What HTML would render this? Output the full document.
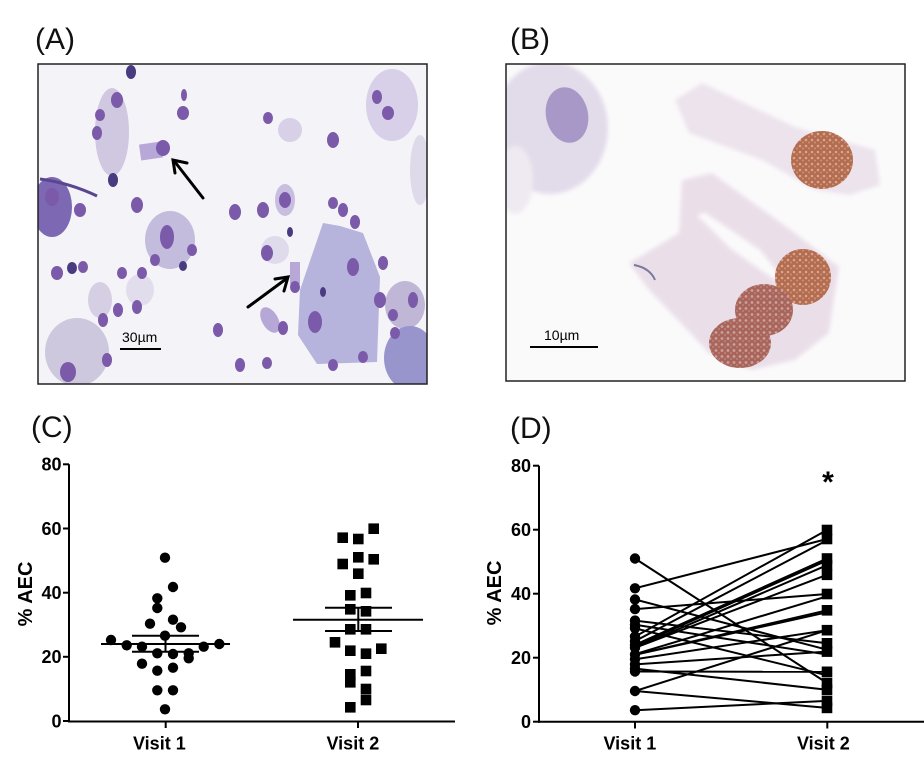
<!DOCTYPE html>
<html>
<head>
<meta charset="utf-8">
<style>
html,body{margin:0;padding:0;background:#fff;}
svg{display:block;}
text{font-family:"Liberation Sans",Arial,sans-serif;}
</style>
</head>
<body>
<svg width="924" height="777" viewBox="0 0 924 777" xmlns="http://www.w3.org/2000/svg">
<defs>
<clipPath id="ca"><rect x="38" y="64" width="389" height="320"/></clipPath>
<clipPath id="cb"><rect x="506" y="64" width="399" height="317"/></clipPath>
<pattern id="sp" width="6" height="6" patternUnits="userSpaceOnUse">
<rect width="6" height="6" fill="#b46c4e"/>
<circle cx="2" cy="2" r="1.3" fill="#d6a594"/>
<circle cx="5" cy="4.5" r="1" fill="#cc927e"/>
</pattern>
<pattern id="sp2" width="6" height="6" patternUnits="userSpaceOnUse">
<rect width="6" height="6" fill="#a9655a"/>
<circle cx="2" cy="2.5" r="1.4" fill="#c9a0a0"/>
<circle cx="5" cy="5" r="0.9" fill="#bd8c88"/>
</pattern>
<filter id="blur1"><feGaussianBlur stdDeviation="2"/></filter>
</defs>
<rect width="924" height="777" fill="#fff"/>

<text x="35" y="49" font-size="30" fill="#111">(A)</text>
<text x="510" y="49" font-size="30" fill="#111">(B)</text>
<text x="31" y="437" font-size="30" fill="#111">(C)</text>
<text x="510" y="438" font-size="30" fill="#111">(D)</text>

<g clip-path="url(#ca)">
<rect x="38" y="64" width="389" height="320" fill="#f4f3f7"/>
<ellipse cx="112" cy="132" rx="17" ry="44" fill="#cfc8e0"/>
<ellipse cx="392" cy="105" rx="26" ry="36" fill="#d7d0e8"/>
<ellipse cx="420" cy="170" rx="10" ry="35" fill="#dedaea"/>
<ellipse cx="52" cy="207" rx="20" ry="30" fill="#7d68b4"/>
<path d="M40 179 Q70 183 97 196" stroke="#5a4590" stroke-width="3" fill="none"/>
<ellipse cx="170" cy="240" rx="25" ry="29" fill="#c4bcdc"/>
<ellipse cx="77" cy="352" rx="32" ry="34" fill="#cdc8de"/>
<ellipse cx="100" cy="300" rx="12" ry="18" fill="#d6cfe4"/>
<polygon points="323,223 340,226 363,233 380,277 377,362 317,364 298,335 300,290" fill="#b6b3dc"/>
<ellipse cx="405" cy="305" rx="20" ry="24" fill="#c0b6d6"/>
<ellipse cx="410" cy="358" rx="26" ry="32" fill="#9894cc"/>
<ellipse cx="285" cy="200" rx="10" ry="16" fill="#c8bfe0"/>
<ellipse cx="275" cy="250" rx="14" ry="14" fill="#e0dbec"/>
<ellipse cx="140" cy="290" rx="14" ry="16" fill="#e2ddec"/>
<ellipse cx="290" cy="130" rx="12" ry="12" fill="#d8d0e6"/>
<rect x="140" y="143" width="22" height="16" fill="#b8a8d8" transform="rotate(-8 151 151)"/>
<rect x="290" y="262" width="10" height="22" fill="#b8a8d8"/>
<ellipse cx="270" cy="320" rx="8" ry="14" fill="#b6a8d6" transform="rotate(-30 270 320)"/>
<g fill="#7a5aa9">
<ellipse cx="117" cy="100" rx="6" ry="8"/>
<ellipse cx="100" cy="115" rx="5" ry="6"/>
<ellipse cx="97" cy="133" rx="5" ry="7"/>
<ellipse cx="183" cy="113" rx="6" ry="7"/>
<ellipse cx="184" cy="95" rx="3" ry="6"/>
<ellipse cx="163" cy="148" rx="7" ry="8"/>
<ellipse cx="268" cy="118" rx="5" ry="6"/>
<ellipse cx="333" cy="140" rx="6" ry="8"/>
<ellipse cx="377" cy="97" rx="5" ry="7"/>
<ellipse cx="388" cy="113" rx="6" ry="7"/>
<ellipse cx="137" cy="205" rx="6" ry="8"/>
<ellipse cx="80" cy="210" rx="6" ry="7"/>
<ellipse cx="235" cy="212" rx="6" ry="8"/>
<ellipse cx="263" cy="210" rx="6" ry="8"/>
<ellipse cx="285" cy="200" rx="6" ry="8"/>
<ellipse cx="333" cy="203" rx="5" ry="6"/>
<ellipse cx="343" cy="210" rx="5" ry="7"/>
<ellipse cx="355" cy="222" rx="5" ry="7"/>
<ellipse cx="167" cy="237" rx="7" ry="12"/>
<ellipse cx="155" cy="260" rx="5" ry="6"/>
<ellipse cx="192" cy="250" rx="5" ry="6"/>
<ellipse cx="267" cy="253" rx="6" ry="8"/>
<ellipse cx="57" cy="273" rx="6" ry="7"/>
<ellipse cx="83" cy="267" rx="5" ry="6"/>
<ellipse cx="122" cy="273" rx="5" ry="6"/>
<ellipse cx="142" cy="273" rx="5" ry="6"/>
<ellipse cx="118" cy="310" rx="5" ry="7"/>
<ellipse cx="137" cy="307" rx="5" ry="7"/>
<ellipse cx="295" cy="287" rx="5" ry="6"/>
<ellipse cx="353" cy="267" rx="6" ry="9"/>
<ellipse cx="315" cy="322" rx="7" ry="11"/>
<ellipse cx="383" cy="263" rx="5" ry="7"/>
<ellipse cx="380" cy="300" rx="6" ry="8"/>
<ellipse cx="393" cy="315" rx="5" ry="6"/>
<ellipse cx="413" cy="300" rx="5" ry="8"/>
<ellipse cx="395" cy="333" rx="5" ry="6"/>
<ellipse cx="218" cy="330" rx="5" ry="7"/>
<ellipse cx="283" cy="328" rx="5" ry="7"/>
<ellipse cx="240" cy="365" rx="5" ry="7"/>
<ellipse cx="267" cy="363" rx="5" ry="6"/>
<ellipse cx="333" cy="365" rx="5" ry="6"/>
<ellipse cx="363" cy="357" rx="5" ry="6"/>
<ellipse cx="107" cy="360" rx="5" ry="7"/>
<ellipse cx="68" cy="372" rx="8" ry="10"/>
<ellipse cx="103" cy="320" rx="5" ry="7"/>
<ellipse cx="52" cy="197" rx="7" ry="9"/>
</g>
<g fill="#4a3a80">
<ellipse cx="113" cy="180" rx="5" ry="7"/>
<ellipse cx="72" cy="268" rx="5" ry="6"/>
<ellipse cx="131" cy="72" rx="5" ry="7"/>
<ellipse cx="290" cy="232" rx="3" ry="5"/>
<ellipse cx="323" cy="292" rx="3" ry="5"/>
<ellipse cx="183" cy="266" rx="4" ry="5"/>
</g>
<g stroke="#000" stroke-width="3" fill="none" stroke-linecap="round">
<line x1="203" y1="198" x2="175" y2="162"/>
<polyline points="175,173 173,160 187,163"/>
<line x1="248" y1="307" x2="286" y2="279"/>
<polyline points="275,279 288,277 284,291"/>
</g>
<text x="122" y="342" font-size="14" fill="#000">30µm</text>
<line x1="120" y1="349" x2="161" y2="349" stroke="#000" stroke-width="2"/>
</g>
<rect x="38" y="64" width="389" height="320" fill="none" stroke="#222" stroke-width="1.5"/>

<g clip-path="url(#cb)">
<rect x="506" y="64" width="399" height="317" fill="#fbfafb"/>
<g filter="url(#blur1)">
<ellipse cx="550" cy="128" rx="58" ry="66" fill="#e2dbea"/>
<ellipse cx="515" cy="180" rx="18" ry="34" fill="#efeaf1"/>
<polygon points="675,100 702,83 795,127 875,150 880,185 850,195 815,190 762,160 689,133" fill="#ece3ec"/>
<polygon points="629,263 679,233 682,180 712,173 795,233 839,267 829,333 795,360 752,370 709,353 675,317 649,290" fill="#eadfe9"/>
<polygon points="697,215 705,213 760,250 780,275 775,280 730,248" fill="#fbfafb"/>
</g>
<ellipse cx="567" cy="115" rx="21" ry="28" fill="#a898c8" transform="rotate(-12 567 115)"/>
<ellipse cx="822" cy="160" rx="31" ry="29" fill="url(#sp)"/>
<ellipse cx="803" cy="277" rx="28" ry="28" fill="url(#sp)"/>
<ellipse cx="764" cy="310" rx="29" ry="26" fill="url(#sp2)"/>
<ellipse cx="740" cy="343" rx="31" ry="25" fill="url(#sp2)"/>
<path d="M634 265 Q650 268 655 280" stroke="#7a7aa0" stroke-width="2" fill="none"/>
<text x="544" y="340" font-size="14" fill="#000">10µm</text>
<line x1="530" y1="347" x2="598" y2="347" stroke="#000" stroke-width="2"/>
</g>
<rect x="506" y="64" width="399" height="317" fill="none" stroke="#222" stroke-width="1.5"/>

<g stroke="#000" stroke-width="2" fill="none">
<line x1="69" y1="464.3" x2="69" y2="722"/>
<line x1="68" y1="721.5" x2="455" y2="721.5"/>
<line x1="63" y1="464.3" x2="69" y2="464.3"/>
<line x1="63" y1="528.5" x2="69" y2="528.5"/>
<line x1="63" y1="592.7" x2="69" y2="592.7"/>
<line x1="63" y1="656.8" x2="69" y2="656.8"/>
<line x1="63" y1="721" x2="69" y2="721"/>
<line x1="165.7" y1="721" x2="165.7" y2="728"/>
<line x1="358" y1="721" x2="358" y2="728"/>
</g>
<g font-size="18" font-weight="bold" text-anchor="end" fill="#000">
<text x="61.5" y="470.7">80</text>
<text x="61.5" y="534.9">60</text>
<text x="61.5" y="599.1">40</text>
<text x="61.5" y="663.2">20</text>
<text x="61.5" y="727.4">0</text>
</g>
<text transform="translate(25,594) rotate(-90)" x="0" y="7" font-size="20" font-weight="bold" text-anchor="middle">% AEC</text>
<text x="133" y="749.5" font-size="18" font-weight="bold">Visit 1</text>
<text x="326.5" y="749.5" font-size="18" font-weight="bold">Visit 2</text>
<g fill="#000">
<circle cx="165" cy="557.7" r="5.2"/>
<circle cx="173" cy="587" r="5.2"/>
<circle cx="157.3" cy="598.3" r="5.2"/>
<circle cx="157.3" cy="608" r="5.2"/>
<circle cx="150" cy="623.7" r="5.2"/>
<circle cx="173" cy="619.7" r="5.2"/>
<circle cx="181" cy="627.3" r="5.2"/>
<circle cx="165" cy="635.7" r="5.2"/>
<circle cx="111" cy="640" r="5.2"/>
<circle cx="126.7" cy="645.3" r="5.2"/>
<circle cx="142" cy="646.7" r="5.2"/>
<circle cx="203.7" cy="646.7" r="5.2"/>
<circle cx="219.3" cy="644" r="5.2"/>
<circle cx="157.3" cy="653.3" r="5.2"/>
<circle cx="173" cy="654" r="5.2"/>
<circle cx="188.7" cy="653.3" r="5.2"/>
<circle cx="188.7" cy="658.3" r="5.2"/>
<circle cx="142" cy="663.7" r="5.2"/>
<circle cx="157.3" cy="670.7" r="5.2"/>
<circle cx="173" cy="667.7" r="5.2"/>
<circle cx="157.3" cy="690.3" r="5.2"/>
<circle cx="173" cy="690.3" r="5.2"/>
<circle cx="165" cy="709.3" r="5.2"/>
</g>
<g fill="#000">
<rect x="368.4" y="523.4" width="10.6" height="10.6"/>
<rect x="337.4" y="532.4" width="10.6" height="10.6"/>
<rect x="353" y="533.7" width="10.6" height="10.6"/>
<rect x="353" y="552" width="10.6" height="10.6"/>
<rect x="368.4" y="554" width="10.6" height="10.6"/>
<rect x="337.4" y="558.7" width="10.6" height="10.6"/>
<rect x="353" y="568.4" width="10.6" height="10.6"/>
<rect x="345" y="590" width="10.6" height="10.6"/>
<rect x="360.7" y="587.7" width="10.6" height="10.6"/>
<rect x="345" y="604" width="10.6" height="10.6"/>
<rect x="360.7" y="606" width="10.6" height="10.6"/>
<rect x="345" y="624" width="10.6" height="10.6"/>
<rect x="360.7" y="624" width="10.6" height="10.6"/>
<rect x="329.7" y="637" width="10.6" height="10.6"/>
<rect x="376" y="643.4" width="10.6" height="10.6"/>
<rect x="345" y="645.4" width="10.6" height="10.6"/>
<rect x="360.7" y="648.4" width="10.6" height="10.6"/>
<rect x="345" y="669" width="10.6" height="10.6"/>
<rect x="345" y="677" width="10.6" height="10.6"/>
<rect x="360.7" y="665.7" width="10.6" height="10.6"/>
<rect x="360.7" y="683.7" width="10.6" height="10.6"/>
<rect x="360.7" y="694.7" width="10.6" height="10.6"/>
<rect x="345" y="702" width="10.6" height="10.6"/>
</g>
<g stroke="#000" stroke-width="2">
<line x1="101" y1="644" x2="230" y2="644"/>
<line x1="132" y1="635.7" x2="199" y2="635.7"/>
<line x1="132" y1="651.7" x2="199" y2="651.7"/>
<line x1="165.5" y1="635.7" x2="165.5" y2="651.7"/>
<line x1="293" y1="619.7" x2="423" y2="619.7"/>
<line x1="325" y1="607.7" x2="392" y2="607.7"/>
<line x1="325" y1="631" x2="392" y2="631"/>
<line x1="358.3" y1="607.7" x2="358.3" y2="631"/>
</g>

<g stroke="#000" stroke-width="2" fill="none">
<line x1="539" y1="465.7" x2="539" y2="722.7"/>
<line x1="538" y1="721.7" x2="924" y2="721.7"/>
<line x1="533" y1="465.7" x2="539" y2="465.7"/>
<line x1="533" y1="529.7" x2="539" y2="529.7"/>
<line x1="533" y1="593.7" x2="539" y2="593.7"/>
<line x1="533" y1="657.7" x2="539" y2="657.7"/>
<line x1="533" y1="721.7" x2="539" y2="721.7"/>
<line x1="635" y1="721.7" x2="635" y2="728.5"/>
<line x1="827.3" y1="721.7" x2="827.3" y2="728.5"/>
</g>
<g font-size="18" font-weight="bold" text-anchor="end" fill="#000">
<text x="531" y="472.1">80</text>
<text x="531" y="536.1">60</text>
<text x="531" y="600.1">40</text>
<text x="531" y="664.1">20</text>
<text x="531" y="728.1">0</text>
</g>
<text transform="translate(494,593) rotate(-90)" x="0" y="7" font-size="20" font-weight="bold" text-anchor="middle">% AEC</text>
<text x="603.5" y="749.5" font-size="18" font-weight="bold">Visit 1</text>
<text x="797" y="749.5" font-size="18" font-weight="bold">Visit 2</text>
<text x="828" y="492" font-size="30" font-weight="bold" text-anchor="middle">*</text>
<g stroke="#000" stroke-width="2">
<line x1="635" y1="558.5" x2="827" y2="683.0"/>
<line x1="635" y1="588.3" x2="827" y2="539.0"/>
<line x1="635" y1="599.5" x2="827" y2="649.7"/>
<line x1="635" y1="609.1" x2="827" y2="594.0"/>
<line x1="635" y1="620.6" x2="827" y2="643.3"/>
<line x1="635" y1="624.7" x2="827" y2="654.5"/>
<line x1="635" y1="628.3" x2="827" y2="675.3"/>
<line x1="635" y1="636.6" x2="827" y2="530.0"/>
<line x1="635" y1="641.1" x2="827" y2="540.3"/>
<line x1="635" y1="644.9" x2="827" y2="558.5"/>
<line x1="635" y1="646.2" x2="827" y2="560.4"/>
<line x1="635" y1="647.8" x2="827" y2="565.2"/>
<line x1="635" y1="647.8" x2="827" y2="574.8"/>
<line x1="635" y1="654.2" x2="827" y2="596.3"/>
<line x1="635" y1="654.8" x2="827" y2="610.3"/>
<line x1="635" y1="654.8" x2="827" y2="612.3"/>
<line x1="635" y1="659.3" x2="827" y2="630.2"/>
<line x1="635" y1="664.4" x2="827" y2="651.6"/>
<line x1="635" y1="668.6" x2="827" y2="689.7"/>
<line x1="635" y1="671.5" x2="827" y2="671.8"/>
<line x1="635" y1="691.0" x2="827" y2="630.2"/>
<line x1="635" y1="691.0" x2="827" y2="707.9"/>
<line x1="635" y1="710.2" x2="827" y2="700.9"/>
</g>
<g fill="#000">
<circle cx="635" cy="558.5" r="5.2"/>
<circle cx="635" cy="588.3" r="5.2"/>
<circle cx="635" cy="599.5" r="5.2"/>
<circle cx="635" cy="609.1" r="5.2"/>
<circle cx="635" cy="620.6" r="5.2"/>
<circle cx="635" cy="624.7" r="5.2"/>
<circle cx="635" cy="628.3" r="5.2"/>
<circle cx="635" cy="636.6" r="5.2"/>
<circle cx="635" cy="641.1" r="5.2"/>
<circle cx="635" cy="644.9" r="5.2"/>
<circle cx="635" cy="647.8" r="5.2"/>
<circle cx="635" cy="654.5" r="5.2"/>
<circle cx="635" cy="659.3" r="5.2"/>
<circle cx="635" cy="664.4" r="5.2"/>
<circle cx="635" cy="668.6" r="5.2"/>
<circle cx="635" cy="671.5" r="5.2"/>
<circle cx="635" cy="691.0" r="5.2"/>
<circle cx="635" cy="710.2" r="5.2"/>
</g>
<g fill="#000">
<rect x="821.7" y="524.7" width="10.6" height="10.6"/>
<rect x="821.7" y="533.7" width="10.6" height="10.6"/>
<rect x="821.7" y="553.2" width="10.6" height="10.6"/>
<rect x="821.7" y="559.9" width="10.6" height="10.6"/>
<rect x="821.7" y="569.5" width="10.6" height="10.6"/>
<rect x="821.7" y="588.7" width="10.6" height="10.6"/>
<rect x="821.7" y="605" width="10.6" height="10.6"/>
<rect x="821.7" y="624.9" width="10.6" height="10.6"/>
<rect x="821.7" y="638" width="10.6" height="10.6"/>
<rect x="821.7" y="646.3" width="10.6" height="10.6"/>
<rect x="821.7" y="666.5" width="10.6" height="10.6"/>
<rect x="821.7" y="677.7" width="10.6" height="10.6"/>
<rect x="821.7" y="684.4" width="10.6" height="10.6"/>
<rect x="821.7" y="695.6" width="10.6" height="10.6"/>
<rect x="821.7" y="702.6" width="10.6" height="10.6"/>
</g>
</svg>
</body>
</html>
